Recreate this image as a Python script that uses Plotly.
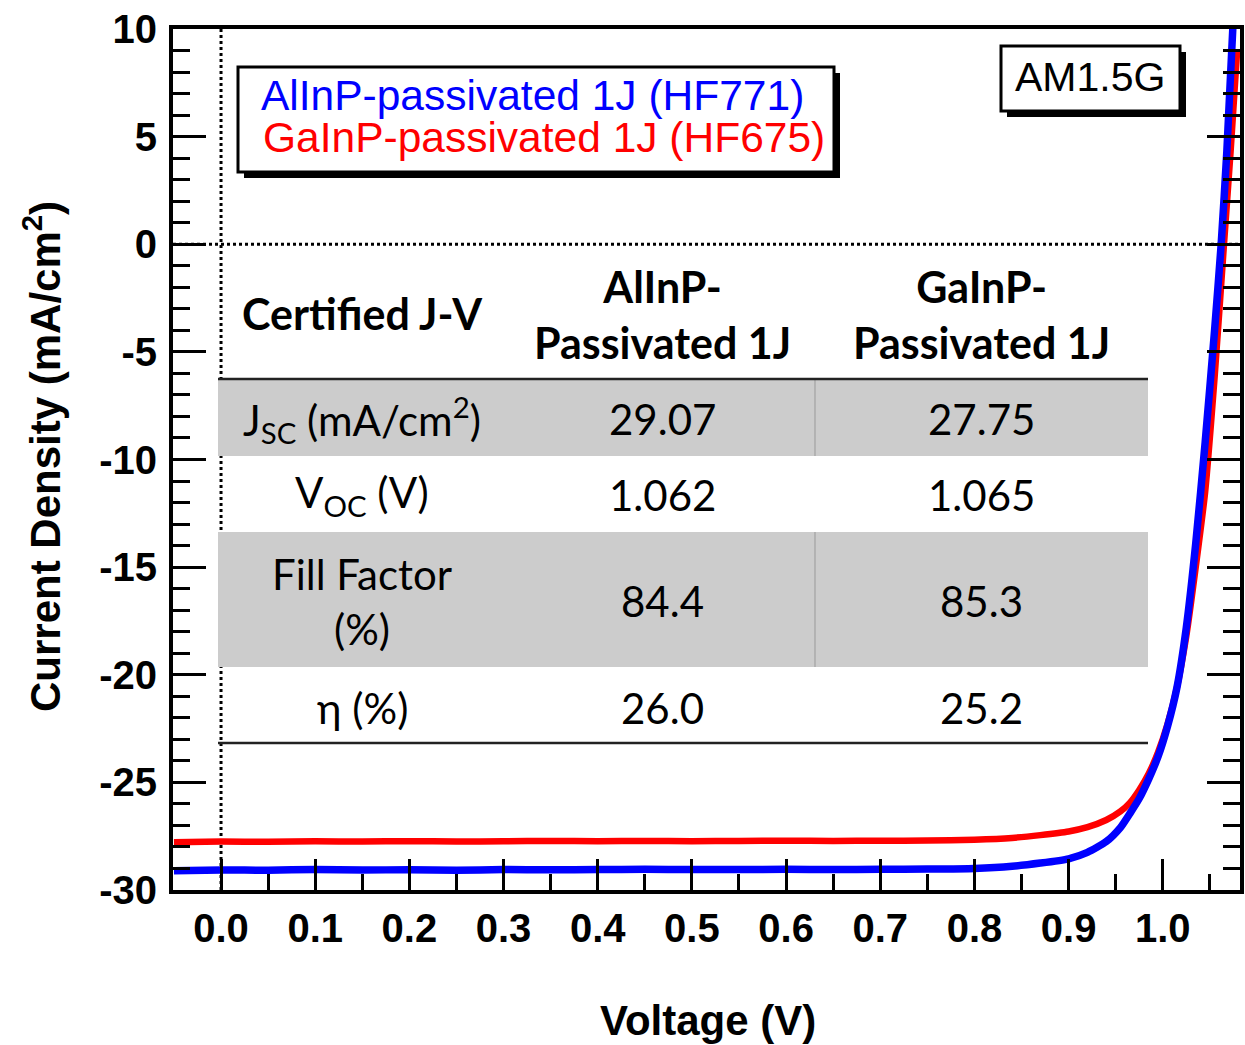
import plotly.graph_objects as go

# ---- J-V data (voltage in V, current density in mA/cm^2) ----
v_alinp = [-0.05, 0.0, 0.05, 0.1, 0.15, 0.2, 0.25, 0.3, 0.35, 0.4, 0.45, 0.5, 0.55, 0.6,
           0.65, 0.7, 0.75, 0.8, 0.84, 0.87, 0.9, 0.92, 0.94, 0.955, 0.965, 0.975, 0.985,
           0.995, 1.005, 1.015, 1.025, 1.035, 1.045, 1.055, 1.062, 1.068, 1.075]
j_alinp = [-29.10, -29.07, -29.08, -29.05, -29.07, -29.06, -29.08, -29.05, -29.06, -29.05,
           -29.04, -29.05, -29.05, -29.04, -29.05, -29.04, -29.03, -29.00, -28.90, -28.75,
           -28.55, -28.25, -27.75, -27.10, -26.45, -25.75, -24.85, -23.80, -22.40, -20.60,
           -17.80, -13.90, -9.20, -4.00, 0.00, 4.30, 10.60]

v_gainp = [-0.05, 0.0, 0.05, 0.1, 0.15, 0.2, 0.25, 0.3, 0.35, 0.4, 0.45, 0.5, 0.55, 0.6,
           0.65, 0.7, 0.75, 0.8, 0.84, 0.87, 0.9, 0.92, 0.94, 0.955, 0.965, 0.975, 0.985,
           0.995, 1.005, 1.015, 1.025, 1.035, 1.045, 1.055, 1.065, 1.072, 1.079]
j_gainp = [-27.78, -27.75, -27.76, -27.74, -27.75, -27.73, -27.75, -27.74, -27.72, -27.73,
           -27.72, -27.73, -27.72, -27.71, -27.72, -27.71, -27.70, -27.66, -27.58, -27.45,
           -27.28, -27.08, -26.75, -26.35, -25.95, -25.35, -24.60, -23.60, -22.30, -20.60,
           -18.20, -15.00, -11.50, -6.20, 0.00, 4.30, 9.00]

series_names = ["AlInP-passivated 1J (HF771)", "GaInP-passivated 1J (HF675)"]
series_colors = ["#0000ff", "#ff0000"]

# ---- certified J-V table ----
table_header = ["Certified J-V", "AlInP-<br>Passivated 1J", "GaInP-<br>Passivated 1J"]
table_rows = ["J<sub>SC</sub> (mA/cm<sup>2</sup>)", "V<sub>OC</sub> (V)", "Fill Factor<br>(%)", "η (%)"]
table_alinp = ["29.07", "1.062", "84.4", "26.0"]
table_gainp = ["27.75", "1.065", "85.3", "25.2"]

x_ticks = [0.0, 0.1, 0.2, 0.3, 0.4, 0.5, 0.6, 0.7, 0.8, 0.9, 1.0]
y_ticks = [-30, -25, -20, -15, -10, -5, 0, 5, 10]
y_ticktext = [str(v) for v in y_ticks]  # plain hyphen-minus

# ---- figure geometry ----
W, H = 1245, 1045
ML, MR, MT, MB = 173, 5, 29, 155
X_RANGE = [-0.051, 1.082]
Y_RANGE = [-30, 10]


def px2x(px):
    return X_RANGE[0] + (px - ML) / (W - ML - MR) * (X_RANGE[1] - X_RANGE[0])


def py2y(py):
    return Y_RANGE[1] - (py - MT) / (H - MT - MB) * (Y_RANGE[1] - Y_RANGE[0])


fig = go.Figure()
# GaInP first so the AlInP curve sits on top where they overlap
fig.add_trace(go.Scatter(x=v_gainp, y=j_gainp, mode="lines", name=series_names[1],
                         line=dict(color=series_colors[1], width=6.5, shape="spline", smoothing=0.6),
                         showlegend=False, cliponaxis=True))
fig.add_trace(go.Scatter(x=v_alinp, y=j_alinp, mode="lines", name=series_names[0],
                         line=dict(color=series_colors[0], width=7.5, shape="spline", smoothing=0.6),
                         showlegend=False, cliponaxis=True))

shapes = []
annotations = []

# reference lines at V = 0 and J = 0
shapes.append(dict(type="line", xref="x", yref="y", x0=0, x1=0, y0=Y_RANGE[0], y1=Y_RANGE[1],
                   line=dict(color="black", width=3, dash="dot"), layer="below"))
shapes.append(dict(type="line", xref="x", yref="y", x0=X_RANGE[0], x1=X_RANGE[1], y0=0, y1=0,
                   line=dict(color="black", width=3, dash="dot"), layer="below"))

# table backgrounds and rules
T_L, T_R = 218, 1148
C2 = 815
row_edges = [379, 456, 532, 667, 743]
for i, shaded in enumerate([True, False, True, False]):
    if shaded:
        shapes.append(dict(type="rect", xref="x", yref="y", x0=px2x(T_L), x1=px2x(T_R),
                           y0=py2y(row_edges[i]), y1=py2y(row_edges[i + 1]),
                           fillcolor="#cccccc", line=dict(width=0), layer="below"))
        shapes.append(dict(type="line", xref="x", yref="y", x0=px2x(C2), x1=px2x(C2),
                           y0=py2y(row_edges[i]), y1=py2y(row_edges[i + 1]),
                           line=dict(color="#999999", width=1), layer="below"))
for ry in (row_edges[0], row_edges[-1]):
    shapes.append(dict(type="line", xref="x", yref="y", x0=px2x(T_L), x1=px2x(T_R),
                       y0=py2y(ry), y1=py2y(ry), line=dict(color="#222222", width=2.5), layer="below"))

TFONT = "Lato"
col_cx = [362, 662, 981]
header_y = [313, 314, 314]
for txt, cx, cy in zip(table_header, col_cx, header_y):
    annotations.append(dict(x=px2x(cx), y=py2y(cy), xref="x", yref="y",
                            text="<b>" + txt.replace("<br>", "</b><br><b>") + "</b>",
                            showarrow=False, xanchor="center", yanchor="middle",
                            font=dict(family=TFONT, size=43, color="black"), align="center"))
row_cy = [419, 495, 601, 708]
for i in range(4):
    for cx, txt in zip(col_cx, [table_rows[i], table_alinp[i], table_gainp[i]]):
        annotations.append(dict(x=px2x(cx), y=py2y(row_cy[i]), xref="x", yref="y", text=txt,
                                showarrow=False, xanchor="center", yanchor="middle", align="center",
                                font=dict(family=TFONT, size=42, color="black")))


def shadow_box(x0, y0, x1, y1, off=6):
    shapes.append(dict(type="rect", xref="x", yref="y", x0=px2x(x0 + off), x1=px2x(x1 + off),
                       y0=py2y(y0 + off), y1=py2y(y1 + off), fillcolor="black", line=dict(width=0)))
    shapes.append(dict(type="rect", xref="x", yref="y", x0=px2x(x0), x1=px2x(x1),
                       y0=py2y(y0), y1=py2y(y1), fillcolor="white", line=dict(color="black", width=3)))


# series key: one colored text line per curve
shadow_box(238, 67, 834, 172)
for name, color, cx, cy in zip(series_names, series_colors, [259, 261], [95, 137]):
    annotations.append(dict(x=px2x(cx), y=py2y(cy), xref="x", yref="y", text=name, showarrow=False,
                            xanchor="left", yanchor="middle",
                            font=dict(family="Liberation Sans", size=42.5, color=color)))

# illumination spectrum label
shadow_box(1001, 46, 1180, 111)
annotations.append(dict(x=px2x(1090), y=py2y(77), xref="x", yref="y", text="AM1.5G", showarrow=False,
                        xanchor="center", yanchor="middle",
                        font=dict(family="Liberation Sans", size=41, color="black")))

# axis titles
annotations.append(dict(x=(708 - ML) / (W - ML - MR), y=-(1020 - (H - MB)) / (H - MT - MB),
                        xref="paper", yref="paper",
                        text="<b>Voltage (V)</b>", showarrow=False, xanchor="center", yanchor="middle",
                        font=dict(family="Liberation Sans", size=42, color="black")))
annotations.append(dict(x=-(ML - 42) / (W - ML - MR), y=(890 - 457) / (H - MT - MB),
                        xref="paper", yref="paper",
                        text="<b>Current Density (mA/cm<sup>2</sup>)</b>", showarrow=False, textangle=-90,
                        xanchor="center", yanchor="middle",
                        font=dict(family="Liberation Sans", size=42, color="black")))

tick_font = dict(family="Liberation Sans", size=40, color="black", weight="bold")
fig.update_layout(
    width=W, height=H,
    margin=dict(l=ML, r=MR, t=MT, b=MB, autoexpand=False),
    paper_bgcolor="white", plot_bgcolor="white",
    shapes=shapes, annotations=annotations,
    xaxis=dict(range=X_RANGE, tickvals=x_ticks, tickformat=".1f", ticks="inside", ticklen=31,
               tickwidth=3, tickcolor="black", showline=True, linecolor="black", linewidth=4,
               mirror=True, showgrid=False, zeroline=False, tickfont=tick_font,
               ticklabelstandoff=0,
               minor=dict(dtick=0.05, tick0=0.0, ticks="inside", ticklen=16, tickwidth=3,
                          tickcolor="black", showgrid=False)),
    yaxis=dict(range=Y_RANGE, tickvals=y_ticks, ticktext=y_ticktext, ticks="inside", ticklen=33,
               tickwidth=3, tickcolor="black", showline=True, linecolor="black", linewidth=4,
               mirror="ticks", showgrid=False, zeroline=False, tickfont=tick_font,
               ticklabelstandoff=4,
               minor=dict(dtick=1, tick0=0, ticks="inside", ticklen=17, tickwidth=3,
                          tickcolor="black", showgrid=False)),
)

fig.write_html("out.html")
